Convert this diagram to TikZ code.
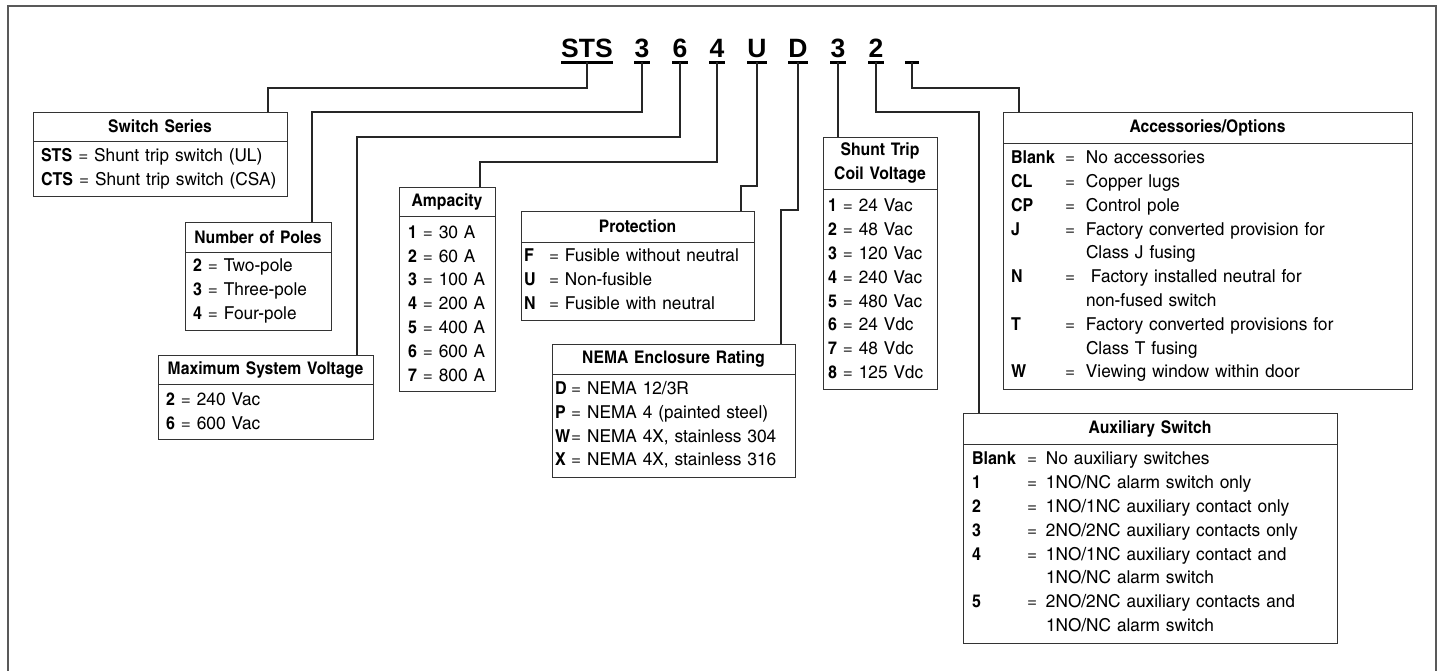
\documentclass[tikz,border=0pt]{standalone}
\usepackage{fontspec}
\setmainfont{texgyreheroscn-regular.otf}[
  BoldFont=texgyreheroscn-bold.otf,
  UprightFeatures={FakeStretch=1.18},
  BoldFeatures={FakeStretch=1.1}]
\newfontfamily\codefont{Liberation Sans}
\usepackage{tikz}
\usetikzlibrary{positioning}

\begin{document}
\begin{tikzpicture}[
      x=1pt, y=-1pt,
      frame/.style={draw=black!65, line width=2.5pt},
      code/.style={inner sep=0pt, anchor=base, font=\codefont\bfseries\fontsize{26.5}{26.5}\selectfont},
      uline/.style={line width=3pt},
      conn/.style={draw=black!85, line width=1.2pt},
      head/.style={
        draw=black!80,
        line width=1pt,
        outer sep=0pt,
        inner sep=0pt,
        anchor=north west,
        align=center,
        font=\bfseries\fontsize{17.4}{24}\selectfont
      },
      body/.style={
        draw=black!80,
        line width=1pt,
        outer sep=0pt,
        inner ysep=0pt,
        inner xsep=8pt,
        align=left,
        font=\fontsize{17.8}{23.8}\selectfont
      }
    ]
    \useasboundingbox (0,0) rectangle (1441,670);
    \draw[frame] (8,6) rectangle (1436,720);

    % catalogue number
    \node[code] (cSTS) at (587,57) {STS};
    \node[code] (cPole) at (642,57) {3};
    \node[code] (cVolt) at (680,57) {6};
    \node[code] (cAmp) at (717,57) {4};
    \node[code] (cProt) at (757,57) {U};
    \node[code] (cEncl) at (798,57) {D};
    \node[code] (cCoil) at (838,57) {3};
    \node[code] (cAux) at (876,57) {2};
    \node[code, minimum width=14pt] (cAcc) at (912,57) {};
    \foreach \c in {cSTS,cPole,cVolt,cAmp,cProt,cEncl,cCoil,cAux,cAcc}
      \draw[uline] ([yshift=-5.5pt]\c.base west) -- ([yshift=-5.5pt]\c.base east);

    \coordinate (ul) at (0,62);
    \coordinate (lvA) at (0,88);
    \coordinate (lvB) at (0,112);
    \coordinate (lvC) at (0,137);
    \coordinate (lvD) at (0,162);
    \coordinate (lvE) at (0,186);
    \coordinate (lvF) at (0,210);

    % boxes
    \node[head, text width=254pt, minimum height=29pt] (serH) at (33,112) {Switch Series};
    \node[body, text width=238pt, minimum height=55pt, below=0pt of serH] (ser) {%
      \textbf{STS} = Shunt trip switch (UL)\\
      \textbf{CTS} = Shunt trip switch (CSA)};

    \node[head, text width=146pt, minimum height=30pt] (poleH) at (185,222) {Number of Poles};
    \node[body, text width=130pt, minimum height=78pt, below=0pt of poleH] (pole) {%
      \textbf{2} = Two-pole\\
      \textbf{3} = Three-pole\\
      \textbf{4} = Four-pole};

    \node[head, text width=215pt, minimum height=29pt] (voltH) at (158,355) {Maximum System Voltage};
    \node[body, text width=199pt, minimum height=55pt, below=0pt of voltH] (volt) {%
      \textbf{2} = 240 Vac\\
      \textbf{6} = 600 Vac};

    \node[head, text width=96pt, minimum height=29pt] (ampH) at (399,187) {Ampacity};
    \node[body, inner xsep=9pt, text width=78pt, minimum height=175pt, below=0pt of ampH] (amp) {%
      \textbf{1} = 30 A\\
      \textbf{2} = 60 A\\
      \textbf{3} = 100 A\\
      \textbf{4} = 200 A\\
      \textbf{5} = 400 A\\
      \textbf{6} = 600 A\\
      \textbf{7} = 800 A};

    \node[head, text width=233pt, minimum height=31pt] (protH) at (521,211) {Protection};
    \node[body, inner xsep=3pt, text width=227pt, minimum height=78pt, below=0pt of protH] (prot) {%
      \begin{tabular}{@{}p{25pt}@{}l@{}}
        \textbf{F} & = Fusible without neutral\\
        \textbf{U} & = Non-fusible\\
        \textbf{N} & = Fusible with neutral
      \end{tabular}};

    \node[head, text width=243pt, minimum height=30pt] (enclH) at (552,344) {NEMA Enclosure Rating};
    \node[body, inner xsep=3pt, text width=237pt, minimum height=103pt, below=0pt of enclH] (encl) {%
      \begin{tabular}{@{}l@{\hspace{1pt}}l@{}}
        \textbf{D} & = NEMA 12/3R\\
        \textbf{P} & = NEMA 4 (painted steel)\\
        \textbf{W} & = NEMA 4X, stainless 304\\
        \textbf{X} & = NEMA 4X, stainless 316
      \end{tabular}};

    \node[head, text width=114pt, minimum height=52pt] (coilH) at (823,137) {Shunt Trip\\Coil Voltage};
    \node[body, inner xsep=5pt, text width=104pt, minimum height=200pt, below=0pt of coilH] (coil) {%
      \textbf{1} = 24 Vac\\
      \textbf{2} = 48 Vac\\
      \textbf{3} = 120 Vac\\
      \textbf{4} = 240 Vac\\
      \textbf{5} = 480 Vac\\
      \textbf{6} = 24 Vdc\\
      \textbf{7} = 48 Vdc\\
      \textbf{8} = 125 Vdc};

    \node[head, text width=409pt, minimum height=31pt] (accH) at (1003,112) {Accessories/Options};
    \node[body, text width=393pt, minimum height=246pt, below=0pt of accH] (acc) {%
      \begin{tabular}{@{}p{54pt}@{}p{21pt}@{}l@{}}
        \textbf{Blank} & = & No accessories\\
        \textbf{CL} & = & Copper lugs\\
        \textbf{CP} & = & Control pole\\
        \textbf{J} & = & Factory converted provision for\\
         & & Class J fusing\\
        \textbf{N} & = & \hspace{5pt}Factory installed neutral for\\
         & & non-fused switch\\
        \textbf{T} & = & Factory converted provisions for\\
         & & Class T fusing\\
        \textbf{W} & = & Viewing window within door
      \end{tabular}};

    \node[head, text width=374pt, minimum height=31pt] (auxH) at (963,413) {Auxiliary Switch};
    \node[body, inner xsep=9pt, text width=356pt, minimum height=199pt, below=0pt of auxH] (aux) {%
      \begin{tabular}{@{}p{55pt}@{}p{19pt}@{}l@{}}
        \textbf{Blank} & = & No auxiliary switches\\
        \textbf{1} & = & 1NO/NC alarm switch only\\
        \textbf{2} & = & 1NO/1NC auxiliary contact only\\
        \textbf{3} & = & 2NO/2NC auxiliary contacts only\\
        \textbf{4} & = & 1NO/1NC auxiliary contact and\\
         & & 1NO/NC alarm switch\\
        \textbf{5} & = & 2NO/2NC auxiliary contacts and\\
         & & 1NO/NC alarm switch
      \end{tabular}};

    % leaders
    \draw[conn] (cSTS.base |- ul) -- (cSTS.base |- lvA) -| ([xshift=235pt]serH.north west);
    \draw[conn] (cPole.base |- ul) -- (cPole.base |- lvB) -| ([xshift=127pt]poleH.north west);
    \draw[conn] (cVolt.base |- ul) -- (cVolt.base |- lvC) -| ([xshift=199pt]voltH.north west);
    \draw[conn] (cAmp.base |- ul) -- (cAmp.base |- lvD) -| ([xshift=81pt]ampH.north west);
    \draw[conn] (cProt.base |- ul) -- (cProt.base |- lvE) -| ([xshift=220pt]protH.north west);
    \draw[conn] (cEncl.base |- ul) -- (cEncl.base |- lvF) -| ([xshift=229pt]enclH.north west);
    \draw[conn] (cCoil.base |- ul) -- (cCoil.base |- coilH.north);
    \draw[conn] (cAux.base |- ul) -- (cAux.base |- lvB) -| ([xshift=16pt]auxH.north west);
    \draw[conn] (cAcc.base |- ul) -- (cAcc.base |- lvA) -| ([xshift=16pt]accH.north west);
  \end{tikzpicture}
\end{document}
